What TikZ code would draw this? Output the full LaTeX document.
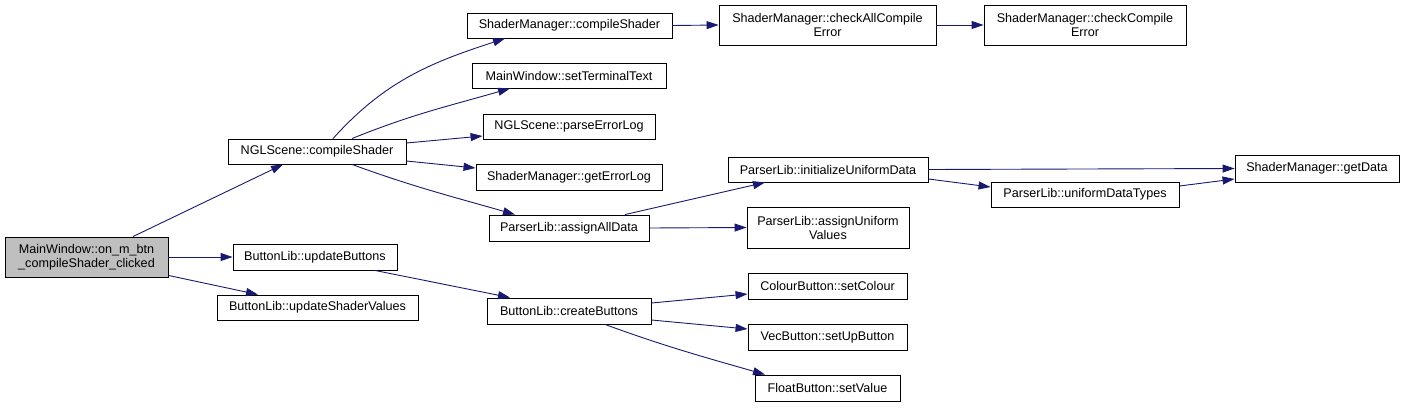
\documentclass[tikz,border=0pt]{standalone}
\usepackage{fontspec}
\setmainfont{Liberation Sans}
\usetikzlibrary{arrows.meta}
\definecolor{edgec}{HTML}{191970}
\definecolor{mainfill}{HTML}{BFBFBF}
\tikzset{
  fn/.style={draw=black, line width=0.9pt, fill=white, inner sep=0pt, align=center,
    font=\fontsize{12.6}{14}\selectfont, anchor=center},
  call/.style={draw=edgec, line width=0.9pt, -{Triangle[length=12pt,width=8pt]}}
}
\begin{document}
\begin{tikzpicture}[x=1pt,y=-1pt]
\useasboundingbox (0,0) rectangle (1405,407);
% column 1
\node[fn, fill=mainfill, minimum width=163pt, minimum height=40pt] (main) at (86.5,257) {MainWindow::on\_m\_btn\\\_compileShader\_clicked};
% column 2
\node[fn, minimum width=178pt, minimum height=25pt] (ngl) at (317,151.5) {NGLScene::compileShader};
\node[fn, minimum width=164pt, minimum height=26pt] (updB) at (315,257) {ButtonLib::updateButtons};
\node[fn, minimum width=201pt, minimum height=25pt] (updSV) at (317.5,307.5) {ButtonLib::updateShaderValues};
% column 3
\node[fn, minimum width=205pt, minimum height=25pt] (smCS) at (569.5,25.5) {ShaderManager::compileShader};
\node[fn, minimum width=194pt, minimum height=25pt] (setTT) at (569,75.5) {MainWindow::setTerminalText};
\node[fn, minimum width=172pt, minimum height=25pt] (parseEL) at (569,126.5) {NGLScene::parseErrorLog};
\node[fn, minimum width=186pt, minimum height=26pt] (getEL) at (569,177) {ShaderManager::getErrorLog};
\node[fn, minimum width=160pt, minimum height=26pt] (assignAD) at (569,228) {ParserLib::assignAllData};
\node[fn, minimum width=164pt, minimum height=26pt] (createB) at (569,311) {ButtonLib::createButtons};
% column 4
\node[fn, minimum width=217pt, minimum height=40pt] (checkAll) at (827.5,25) {ShaderManager::checkAllCompile\\Error};
\node[fn, minimum width=200pt, minimum height=25pt] (initUD) at (828,169.5) {ParserLib::initializeUniformData};
\node[fn, minimum width=162pt, minimum height=41pt] (assignUV) at (828,227.5) {ParserLib::assignUniform\\Values};
\node[fn, minimum width=159pt, minimum height=26pt] (setColour) at (827.5,286) {ColourButton::setColour};
\node[fn, minimum width=159pt, minimum height=26pt] (setUp) at (827.5,337) {VecButton::setUpButton};
\node[fn, minimum width=145pt, minimum height=26pt] (setValue) at (827.5,388) {FloatButton::setValue};
% column 5
\node[fn, minimum width=202pt, minimum height=40pt] (checkC) at (1085,25) {ShaderManager::checkCompile\\Error};
\node[fn, minimum width=188pt, minimum height=25pt] (uDT) at (1085,194.5) {ParserLib::uniformDataTypes};
% column 6
\node[fn, minimum width=164pt, minimum height=27pt] (getData) at (1317,168.5) {ShaderManager::getData};
% edges
\draw[call] ([xshift=46.5pt]main.north) -- ([xshift=-34pt]ngl.south);
\draw[call] (main.east) -- (updB.west);
\draw[call] ([yshift=2pt]main.south east) -- ([xshift=-59.5pt]updSV.north);
\draw[call] ([xshift=16pt]ngl.north) to[out=48,in=198] ([xshift=-64.5pt]smCS.south);
\draw[call] ([xshift=35pt]ngl.north) to[out=22,in=196] ([xshift=-59pt]setTT.south);
\draw[call] ([yshift=8.5pt]ngl.east) -- ([yshift=-9.5pt]parseEL.west);
\draw[call] ([yshift=-9.5pt]ngl.east) -- ([yshift=9pt]getEL.west);
\draw[call] ([xshift=35pt]ngl.south) to[out=-20,in=164] ([xshift=-54pt]assignAD.north);
\draw[call] (smCS.east) -- (checkAll.west);
\draw[call] (checkAll.east) -- (checkC.west);
\draw[call] ([xshift=56pt]assignAD.north) -- ([xshift=-63pt]initUD.south);
\draw[call] (assignAD.east) -- (assignUV.west);
\draw[call] (initUD.east) -- (getData.west);
\draw[call] ([yshift=-9.5pt]initUD.east) -- ([yshift=7.5pt]uDT.west);
\draw[call] ([yshift=8.5pt]uDT.east) -- ([yshift=-10.5pt]getData.west);
\draw[call] ([xshift=60pt]updB.south) -- ([xshift=-59pt]createB.north);
\draw[call] ([yshift=8pt]createB.east) -- ([yshift=-8pt]setColour.west);
\draw[call] ([yshift=-9pt]createB.east) -- ([yshift=8pt]setUp.west);
\draw[call] ([xshift=36pt]createB.south) to[out=-20,in=164] ([xshift=-62.5pt]setValue.north);
\end{tikzpicture}
\end{document}
